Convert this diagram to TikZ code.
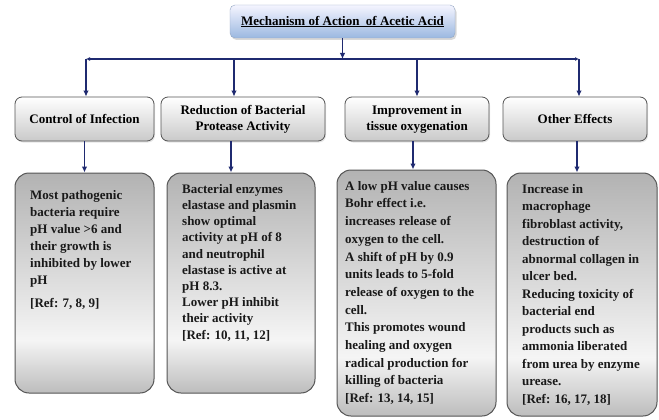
\documentclass[tikz,border=0pt]{standalone}
\usepackage{fontspec}
\setmainfont{Liberation Serif}
\usetikzlibrary{arrows.meta,shadows,positioning}
\definecolor{navy}{RGB}{31,42,112}
\definecolor{boxline}{RGB}{85,85,85}
\definecolor{titleblue}{RGB}{155,184,224}
\pgfdeclareverticalshading{bodyshade}{100bp}{color(0bp)=(gray!52); color(25bp)=(gray!52); color(37bp)=(gray!8); color(75bp)=(gray!60); color(100bp)=(gray!60)}
\tikzset{
  titlebox/.style={draw=titleblue!70!gray,rounded corners=5pt,top color=blue!4!white,bottom color=titleblue,drop shadow={opacity=0.3,shadow xshift=1.5pt,shadow yshift=-2pt},minimum width=225pt,minimum height=33pt,font=\fontsize{13}{15}\selectfont\bfseries},
  headbox/.style={draw=boxline,line width=0.8pt,rounded corners=7pt,top color=white,bottom color=gray!42,drop shadow={opacity=0.2,shadow xshift=1pt,shadow yshift=-1.5pt},minimum height=44pt,align=center,font=\fontsize{13}{16}\selectfont\bfseries},
  bodybox/.style={draw=boxline,line width=1pt,rounded corners=14pt,shading=bodyshade},
  bodytext/.style={anchor=north west,inner sep=0pt,align=left,text=black!90,font=\fontsize{13}{17}\selectfont\bfseries},
  arr/.style={navy,line width=1.7pt,-{Latex[length=6pt,width=5.5pt]}},
  busarr/.style={navy,line width=1.7pt,-{Latex[length=4pt,width=4pt]}}
}
\begin{document}
\begin{tikzpicture}[x=1pt,y=-1pt]
\useasboundingbox[fill=white] (0,0) rectangle (659,420);
\node (t) at (342.5,21.5) [titlebox] {\underline{Mechanism of Action\enspace of Acetic Acid}};
\coordinate (bl) at (86,59);
\coordinate (br) at (579,59);
\node (h1) at (84.5,119) [headbox,minimum width=139pt] {Control of Infection};
\node (h2) at (243,119) [headbox,minimum width=164pt] {Reduction of Bacterial\\Protease Activity};
\node (h3) at (417,119) [headbox,minimum width=144pt] {Improvement in\\tissue oxygenation};
\node (h4) at (575,119) [headbox,minimum width=144pt] {Other Effects};
\node (c1) at (84.5,283) [bodybox,minimum width=139pt,minimum height=220pt] {};
\node (c2) at (241,283) [bodybox,minimum width=148pt,minimum height=220pt] {};
\node (c3) at (416.5,293) [bodybox,minimum width=159pt,minimum height=246pt] {};
\node (c4) at (582,294.5) [bodybox,minimum width=150pt,minimum height=243pt] {};
\node (c1t) at (30,190) [bodytext] {Most pathogenic\\bacteria require\\pH value >6 and\\their growth is\\inhibited by lower\\pH\\[6pt][Ref: 7, 8, 9]};
\node (c2t) at (182,184) [bodytext,font=\fontsize{13}{16.2}\selectfont\bfseries] {Bacterial enzymes\\elastase and plasmin\\show optimal\\activity at pH of 8\\and neutrophil\\elastase is active at\\pH 8.3.\\Lower pH inhibit\\their activity\\{}[Ref: 10, 11, 12]};
\node (c3t) at (345,181) [bodytext,font=\fontsize{13}{17.7}\selectfont\bfseries] {A low pH value causes\\Bohr effect i.e.\\increases release of\\oxygen to the cell.\\A shift of pH by 0.9\\units leads to 5-fold\\release of oxygen to the\\cell.\\This promotes wound\\healing and oxygen\\radical production for\\killing of bacteria\\{}[Ref: 13, 14, 15]};
\node (c4t) at (522,184) [bodytext,font=\fontsize{13}{17.5}\selectfont\bfseries] {Increase in\\macrophage\\fibroblast activity,\\destruction of\\abnormal collagen in\\ulcer bed.\\Reducing toxicity of\\bacterial end\\products such as\\ammonia liberated\\from urea by enzyme\\urease.\\{}[Ref: 16, 17, 18]};
\draw[arr] (t.south) -- (t.south |- bl);
\draw[busarr] (t.south |- bl) -- (bl);
\draw[busarr] (t.south |- bl) -- (br);
\draw[arr] (bl) -- (bl |- h1.north);
\draw[arr] ([xshift=-9pt]h2.north |- bl) -- ([xshift=-9pt]h2.north);
\draw[arr] (h3.north |- bl) -- (h3.north);
\draw[arr] (br) -- (br |- h4.north);
\draw[arr] (h1.south) -- (h1.south |- c1.north);
\draw[arr] ([xshift=-12pt]h2.south) -- ([xshift=-12pt]h2.south |- c2.north);
\draw[arr] ([xshift=-4pt]h3.south) -- ([xshift=-4pt]h3.south |- c3.north);
\draw[arr] ([xshift=2pt]h4.south) -- ([xshift=2pt]h4.south |- c4.north);
\end{tikzpicture}
\end{document}
